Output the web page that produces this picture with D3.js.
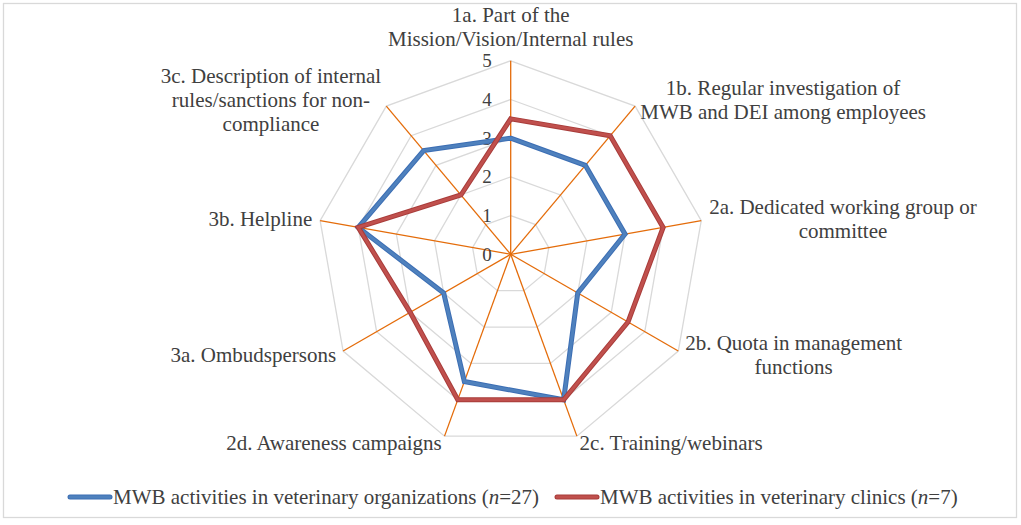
<!DOCTYPE html>
<html>
<head>
<meta charset="utf-8">
<script src="https://cdn.jsdelivr.net/npm/d3@7"></script>
<style>
  html, body { margin: 0; padding: 0; background: #ffffff; }
  svg { display: block; }
</style>
</head>
<body>
<svg id="chart" width="1021" height="525"></svg>
<script>
// ---- data ----
const categories = [
  ["1a. Part of the", "Mission/Vision/Internal rules"],
  ["1b. Regular investigation of", "MWB and DEI among employees"],
  ["2a. Dedicated working group or", "committee"],
  ["2b. Quota in management", "functions"],
  ["2c. Training/webinars"],
  ["2d. Awareness campaigns"],
  ["3a. Ombudspersons"],
  ["3b. Helpline"],
  ["3c. Description of internal", "rules/sanctions for non-", "compliance"]
];
const organizations = [3, 3, 3, 2, 4, 3.5, 2, 4, 3.5];
const clinics = [3.5, 4, 4, 3.5, 4, 4, 3, 4, 2];
const tickValues = [0, 1, 2, 3, 4, 5];
const seriesNames = ["MWB activities in veterinary organizations (", "MWB activities in veterinary clinics ("];
const seriesN = ["27", "7"];

// ---- layout ----
const cx = 510.7, cy = 254.3, R = 193.5;
const FONT = '"Liberation Serif", Tinos, "Times New Roman"';
const TXT = "#404040";
const svg = d3.select("#chart");

svg.append("rect").attr("x", 3.5).attr("y", 3.5).attr("width", 1013).attr("height", 514)
  .attr("fill", "#fff").attr("stroke", "#D9D9D9").attr("stroke-width", 1.3);

const g = svg.append("g").attr("transform", `translate(${cx},${cy})`);
const r = d3.scaleLinear().domain([0, 5]).range([0, R]);
const n = categories.length;
const angle = d3.scaleLinear().domain([0, n]).range([0, 2 * Math.PI]);

// grid polygons
const gridLine = d3.lineRadial().curve(d3.curveLinearClosed);
tickValues.filter(t => t > 0).forEach(t => {
  g.append("path")
    .attr("d", gridLine(categories.map((c, i) => [angle(i), r(t)])))
    .attr("fill", "none").attr("stroke", "#D9D9D9").attr("stroke-width", 1.3);
});

// spokes
categories.forEach((c, i) => {
  const a = angle(i);
  g.append("line").attr("x1", 0).attr("y1", 0)
    .attr("x2", r(5) * Math.sin(a)).attr("y2", -r(5) * Math.cos(a))
    .attr("stroke", "#E46C0A").attr("stroke-width", 1.3);
});

// tick labels
g.selectAll("text.tick").data(tickValues).join("text")
  .attr("class", "tick")
  .attr("x", -19).attr("y", d => -r(d)).attr("dy", "0.34em")
  .attr("text-anchor", "end")
  .style("font-family", FONT).style("font-size", "19px").attr("fill", TXT)
  .text(d => d);

// series
const line = d3.lineRadial().curve(d3.curveLinearClosed)
  .angle((d, i) => angle(i)).radius(d => r(d));
const series = [
  { values: organizations, outer: "#3C6EB4", inner: "#4F81BD" },
  { values: clinics, outer: "#A83C3A", inner: "#C0504D" }
];
series.forEach(s => {
  g.append("path").attr("d", line(s.values)).attr("fill", "none")
    .attr("stroke", s.outer).attr("stroke-width", 5).attr("stroke-linejoin", "miter");
  g.append("path").attr("d", line(s.values)).attr("fill", "none")
    .attr("stroke", s.inner).attr("stroke-width", 3).attr("stroke-linejoin", "miter");
});

// category labels
const LH = 24, PAD = 8;
categories.forEach((lines, i) => {
  const a = angle(i);
  const sx = Math.sin(a), cy2 = -Math.cos(a);
  const px = (R + PAD) * sx, py = (R + PAD) * cy2;
  const t = g.append("text").style("font-family", FONT).style("font-size", "21px")
    .attr("fill", TXT).attr("text-anchor", "middle");
  const spans = lines.map(l => t.append("tspan").text(l));
  const w = d3.max(spans, s => s.node().getComputedTextLength());
  let x, yc;
  if (Math.abs(sx) < 0.1) {
    x = px;
    yc = cy2 < 0 ? py - lines.length * LH / 2 - 2 : py + lines.length * LH / 2;
  } else {
    x = sx > 0 ? px + w / 2 : px - w / 2;
    yc = py;
  }
  spans.forEach((s, k) => {
    s.attr("x", x).attr("y", yc + (k - (lines.length - 1) / 2) * LH).attr("dy", "0.32em");
  });
});

// legend
const legend = svg.append("g");
const legendX = [70, 557];
seriesNames.forEach((name, i) => {
  const lx = legendX[i];
  legend.append("line").attr("x1", lx).attr("x2", lx + 40).attr("y1", 497).attr("y2", 497)
    .attr("stroke", series[i].outer).attr("stroke-width", 5).attr("stroke-linecap", "round");
  legend.append("line").attr("x1", lx).attr("x2", lx + 40).attr("y1", 497).attr("y2", 497)
    .attr("stroke", series[i].inner).attr("stroke-width", 3).attr("stroke-linecap", "round");
  const t = legend.append("text").attr("x", lx + 43).attr("y", 497).attr("dy", "0.32em")
    .style("font-family", FONT).style("font-size", "21px").attr("fill", TXT);
  t.append("tspan").text(name);
  t.append("tspan").style("font-style", "italic").text("n");
  t.append("tspan").text("=" + seriesN[i] + ")");
});
</script>
</body>
</html>
